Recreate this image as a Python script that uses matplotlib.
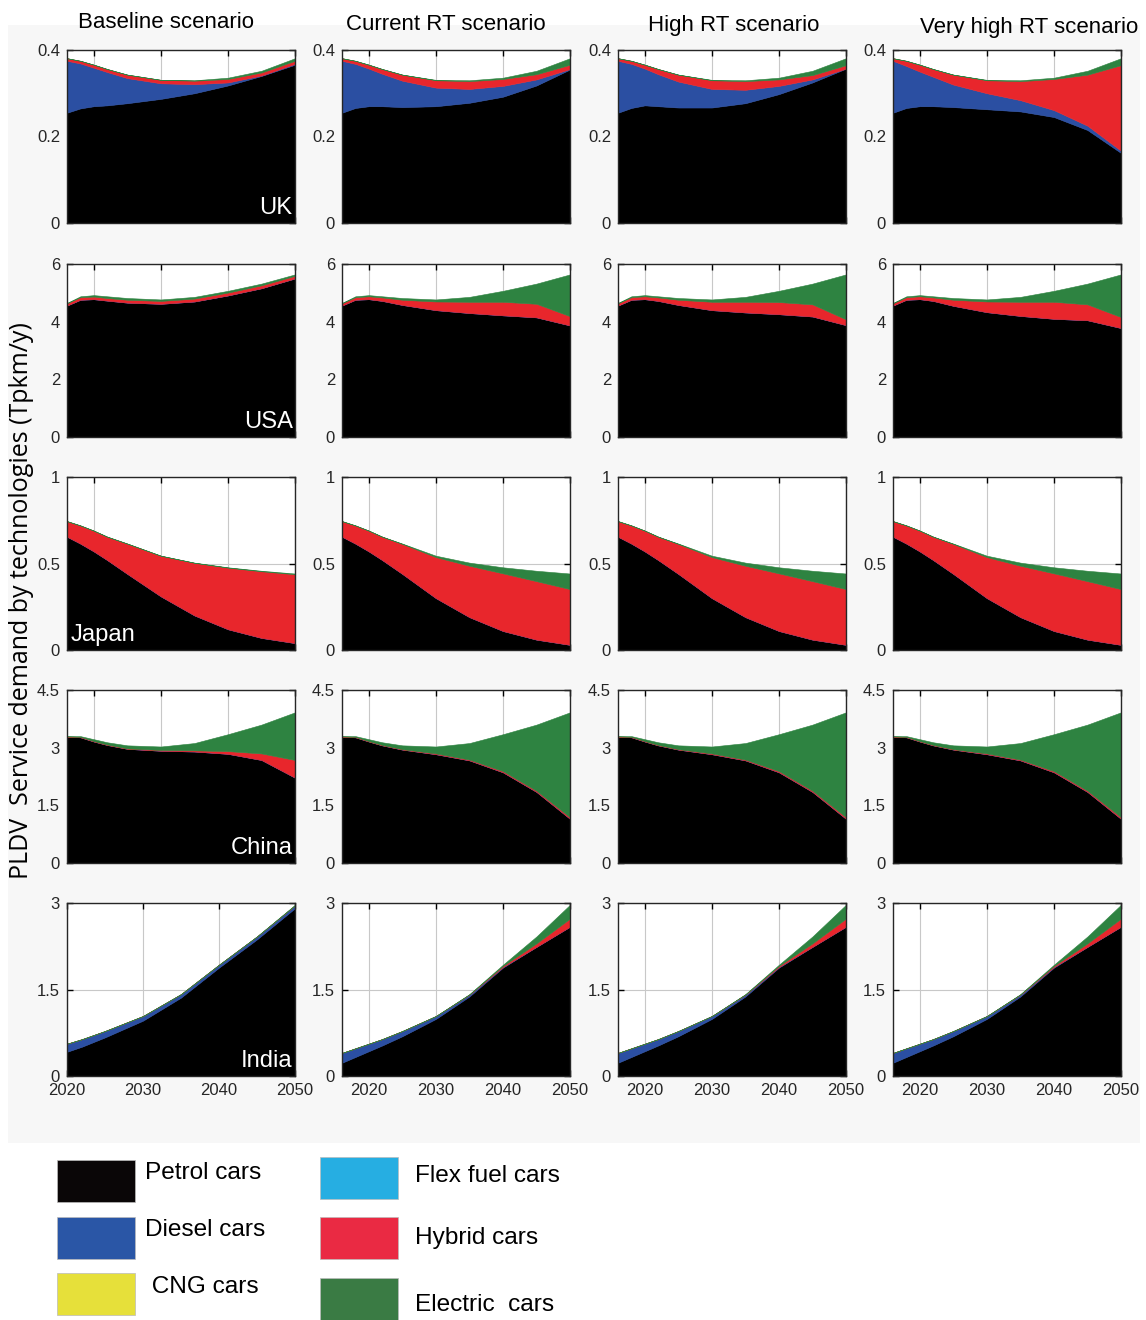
import numpy as np
import matplotlib
matplotlib.use("Agg")
from matplotlib import pyplot as plt
from matplotlib import font_manager
from matplotlib.patches import Rectangle

# 数据部分
years = [2016, 2018, 2020, 2022, 2025, 2030, 2035, 2040, 2045, 2050]
scenarios = ["Baseline scenario", "Current RT scenario", "High RT scenario", "Very high RT scenario"]
regions = ["UK", "USA", "Japan", "China", "India"]

# each list: [baseline, current RT, high RT, very high RT]
uk_petrol = [[0.255, 0.265, 0.270, 0.272, 0.277, 0.287, 0.300, 0.318, 0.340, 0.366],
             [0.255, 0.266, 0.270, 0.270, 0.268, 0.270, 0.278, 0.292, 0.318, 0.355],
             [0.255, 0.266, 0.272, 0.270, 0.267, 0.267, 0.277, 0.298, 0.325, 0.357],
             [0.255, 0.266, 0.270, 0.270, 0.268, 0.263, 0.258, 0.245, 0.215, 0.162]]
uk_diesel = [[0.120, 0.104, 0.089, 0.077, 0.058, 0.036, 0.021, 0.007, 0.001, 0.002],
             [0.120, 0.102, 0.087, 0.075, 0.061, 0.043, 0.032, 0.025, 0.014, 0.001],
             [0.120, 0.102, 0.085, 0.074, 0.060, 0.043, 0.031, 0.019, 0.007, 0.000],
             [0.120, 0.097, 0.080, 0.068, 0.052, 0.037, 0.026, 0.016, 0.010, 0.005]]
uk_hybrid = [[0.006, 0.006, 0.007, 0.007, 0.008, 0.008, 0.008, 0.008, 0.007, 0.007],
             [0.006, 0.007, 0.009, 0.011, 0.014, 0.017, 0.018, 0.016, 0.012, 0.010],
             [0.006, 0.007, 0.009, 0.012, 0.016, 0.020, 0.020, 0.015, 0.010, 0.008],
             [0.006, 0.012, 0.016, 0.018, 0.023, 0.030, 0.044, 0.072, 0.118, 0.198]]
uk_electric = [[0, 0, 0, 0, 0, 0, 0.001, 0.003, 0.004, 0.006],
               [0, 0, 0, 0, 0, 0.001, 0.002, 0.003, 0.008, 0.015],
               [0, 0, 0, 0, 0, 0.001, 0.002, 0.004, 0.010, 0.016],
               [0, 0, 0, 0, 0, 0.001, 0.002, 0.003, 0.009, 0.016]]

usa_petrol = [[4.56, 4.76, 4.78, 4.73, 4.66, 4.62, 4.70, 4.91, 5.16, 5.50],
              [4.56, 4.76, 4.78, 4.72, 4.58, 4.40, 4.30, 4.22, 4.15, 3.87],
              [4.56, 4.76, 4.78, 4.72, 4.58, 4.40, 4.32, 4.26, 4.18, 3.88],
              [4.56, 4.76, 4.78, 4.72, 4.55, 4.33, 4.20, 4.10, 4.05, 3.78]]
usa_diesel = [[0] * 10] * 4
usa_hybrid = [[0.08, 0.09, 0.09, 0.09, 0.10, 0.10, 0.10, 0.10, 0.10, 0.09],
              [0.08, 0.09, 0.10, 0.12, 0.18, 0.30, 0.39, 0.47, 0.47, 0.32],
              [0.08, 0.09, 0.10, 0.12, 0.18, 0.29, 0.37, 0.42, 0.42, 0.20],
              [0.08, 0.09, 0.10, 0.12, 0.21, 0.37, 0.49, 0.59, 0.55, 0.38]]
usa_electric = [[0.01, 0.03, 0.05, 0.06, 0.06, 0.05, 0.06, 0.06, 0.06, 0.05],
                [0.01, 0.03, 0.04, 0.04, 0.06, 0.07, 0.17, 0.38, 0.70, 1.45],
                [0.01, 0.03, 0.04, 0.04, 0.06, 0.08, 0.17, 0.39, 0.72, 1.56],
                [0.01, 0.03, 0.04, 0.04, 0.06, 0.07, 0.17, 0.38, 0.72, 1.48]]

japan_petrol = [[0.655, 0.615, 0.57, 0.52, 0.44, 0.31, 0.20, 0.12, 0.07, 0.04],
                [0.655, 0.615, 0.57, 0.52, 0.44, 0.30, 0.19, 0.11, 0.06, 0.03],
                [0.655, 0.615, 0.57, 0.52, 0.44, 0.30, 0.19, 0.11, 0.06, 0.03],
                [0.655, 0.615, 0.57, 0.52, 0.44, 0.30, 0.19, 0.11, 0.06, 0.03]]
japan_diesel = [[0] * 10] * 4
japan_hybrid = [[0.09, 0.105, 0.12, 0.135, 0.175, 0.235, 0.304, 0.356, 0.385, 0.398],
                [0.09, 0.105, 0.12, 0.135, 0.173, 0.237, 0.297, 0.333, 0.338, 0.322],
                [0.09, 0.105, 0.12, 0.135, 0.173, 0.237, 0.297, 0.333, 0.338, 0.322],
                [0.09, 0.105, 0.12, 0.135, 0.173, 0.237, 0.297, 0.333, 0.338, 0.322]]
japan_electric = [[0, 0, 0, 0, 0, 0, 0.001, 0.002, 0.003, 0.004],
                  [0, 0, 0, 0, 0.002, 0.008, 0.018, 0.035, 0.060, 0.090],
                  [0, 0, 0, 0, 0.002, 0.008, 0.018, 0.035, 0.060, 0.090],
                  [0, 0, 0, 0, 0.002, 0.008, 0.018, 0.035, 0.060, 0.090]]

china_petrol = [[3.28, 3.27, 3.16, 3.07, 2.97, 2.92, 2.90, 2.84, 2.68, 2.22],
                [3.28, 3.27, 3.16, 3.06, 2.95, 2.83, 2.67, 2.36, 1.85, 1.15],
                [3.28, 3.27, 3.16, 3.06, 2.95, 2.83, 2.67, 2.36, 1.85, 1.15],
                [3.28, 3.27, 3.16, 3.06, 2.95, 2.83, 2.67, 2.36, 1.85, 1.15]]
china_diesel = [[0] * 10] * 4
china_hybrid = [[0.01, 0.01, 0.01, 0.01, 0.01, 0.02, 0.03, 0.07, 0.17, 0.46],
                [0.01, 0.01, 0.01, 0.01, 0.01, 0.02, 0.02, 0.03, 0.03, 0.04],
                [0.01, 0.01, 0.01, 0.01, 0.01, 0.02, 0.02, 0.03, 0.03, 0.04],
                [0.01, 0.01, 0.01, 0.01, 0.01, 0.02, 0.02, 0.03, 0.03, 0.04]]
china_electric = [[0.01, 0.02, 0.05, 0.06, 0.08, 0.09, 0.19, 0.44, 0.75, 1.24],
                  [0.01, 0.02, 0.05, 0.07, 0.10, 0.18, 0.43, 0.96, 1.72, 2.73],
                  [0.01, 0.02, 0.05, 0.07, 0.10, 0.18, 0.43, 0.96, 1.72, 2.73],
                  [0.01, 0.02, 0.05, 0.07, 0.10, 0.18, 0.43, 0.96, 1.72, 2.73]]

india_petrol = [[0.24, 0.33, 0.42, 0.51, 0.67, 0.96, 1.36, 1.88, 2.37, 2.91],
                [0.23, 0.33, 0.43, 0.53, 0.69, 0.99, 1.38, 1.88, 2.24, 2.59],
                [0.23, 0.33, 0.43, 0.53, 0.69, 0.99, 1.38, 1.88, 2.24, 2.59],
                [0.23, 0.33, 0.43, 0.53, 0.69, 0.99, 1.38, 1.88, 2.24, 2.59]]
india_diesel = [[0.16, 0.15, 0.14, 0.13, 0.11, 0.08, 0.06, 0.05, 0.05, 0.05],
                [0.17, 0.15, 0.13, 0.11, 0.09, 0.05, 0.03, 0.01, 0.00, 0.00],
                [0.17, 0.15, 0.13, 0.11, 0.09, 0.05, 0.03, 0.01, 0.00, 0.00],
                [0.17, 0.15, 0.13, 0.11, 0.09, 0.05, 0.03, 0.01, 0.00, 0.00]]
india_hybrid = [[0] * 10,
                [0, 0, 0, 0, 0, 0, 0.005, 0.02, 0.06, 0.14],
                [0, 0, 0, 0, 0, 0, 0.005, 0.02, 0.06, 0.14],
                [0, 0, 0, 0, 0, 0, 0.005, 0.02, 0.06, 0.14]]
india_electric = [[0, 0, 0, 0, 0, 0, 0, 0, 0.002, 0.01],
                  [0, 0, 0, 0, 0, 0, 0.005, 0.02, 0.12, 0.24],
                  [0, 0, 0, 0, 0, 0, 0.005, 0.02, 0.12, 0.24],
                  [0, 0, 0, 0, 0, 0, 0.005, 0.02, 0.12, 0.24]]

yticks = [[0, 0.2, 0.4], [0, 2, 4, 6], [0, 0.5, 1], [0, 1.5, 3, 4.5], [0, 1.5, 3]]
ytick_labels = [["0", "0.2", "0.4"], ["0", "2", "4", "6"], ["0", "0.5", "1"],
                ["0", "1.5", "3", "4.5"], ["0", "1.5", "3"]]
xticks = [2020, 2030, 2040, 2050]

legend_names = ["Petrol cars", "Diesel cars", " CNG cars", "Flex fuel cars", "Hybrid cars", "Electric  cars"]
legend_colors = ["#0a0607", "#2a56a6", "#e6e03a", "#26aee2", "#ea2a43", "#3a7b44"]
c_petrol, c_diesel, c_hybrid, c_electric = "#000000", "#2b4fa2", "#e8262c", "#2e8341"

data = [
    (uk_petrol, uk_diesel, uk_hybrid, uk_electric),
    (usa_petrol, usa_diesel, usa_hybrid, usa_electric),
    (japan_petrol, japan_diesel, japan_hybrid, japan_electric),
    (china_petrol, china_diesel, china_hybrid, china_electric),
    (india_petrol, india_diesel, india_hybrid, india_electric),
]

# 字体
names = set(f.name for f in font_manager.fontManager.ttflist)
narrow = "Liberation Sans Narrow" in names
cond_font = "Liberation Sans Narrow" if narrow else "Liberation Sans"
k = 1.0 if narrow else 0.9
plt.rcParams["font.family"] = ["Liberation Sans", "DejaVu Sans"]

W, H = 1146, 1320
fig = plt.figure(figsize=(W / 100, H / 100), dpi=100)
fig.patch.set_facecolor("white")
fig.add_artist(Rectangle((8 / W, 1 - 1143 / H), 1132 / W, 1118 / H, transform=fig.transFigure,
                         facecolor="#f7f7f7", edgecolor="none", zorder=0))

col_left = [67, 342, 618, 893]
row_top = [50, 264, 477, 690, 903]
aw, ah = 228, 173

for r in range(5):
    for c in range(4):
        ax = fig.add_axes([col_left[c] / W, 1 - (row_top[r] + ah) / H, aw / W, ah / H])
        p, d, h, e = data[r]
        ax.stackplot(years, p[c], d[c], h[c], e[c],
                     colors=[c_petrol, c_diesel, c_hybrid, c_electric],
                     edgecolor="face", linewidth=0.4)
        x0 = 2020 if (r == 4 and c == 0) else 2016
        ax.set_xlim(x0, 2050)
        ax.set_ylim(0, yticks[r][-1])
        ax.set_yticks(yticks[r])
        ax.set_yticklabels(ytick_labels[r])
        ax.set_xticks(xticks)
        if r < 4:
            ax.set_xticklabels([])
        ax.grid(True, color="#c8c8c8", linewidth=0.8)
        ax.set_axisbelow(True)
        ax.tick_params(direction="in", top=True, right=True, length=4, width=1,
                       labelsize=12, labelcolor="#262626", pad=5)
        for s in ax.spines.values():
            s.set_color("#262626")
            s.set_linewidth(1)
        if c == 0:
            if regions[r] == "Japan":
                ax.text(0.015, 0.025, regions[r], transform=ax.transAxes, ha="left", va="bottom",
                        color="white", fontsize=19 * k, family=cond_font)
            else:
                ax.text(0.99, 0.025, regions[r], transform=ax.transAxes, ha="right", va="bottom",
                        color="white", fontsize=19 * k, family=cond_font)

# 标题
title_x = [166, 446, 734, 1029]
title_y = [22, 24, 25, 27]
for i in range(4):
    fig.text(title_x[i] / W, 1 - title_y[i] / H, scenarios[i], ha="center", va="center",
             fontsize=17.8 * k, family=cond_font)

fig.text(22 / W, 1 - 601 / H, "PLDV  Service demand by technologies (Tpkm/y)", rotation=90,
         ha="center", va="center", fontsize=18, family=["Open Sans", "DejaVu Sans"])

# 图例
patch_x = [57, 57, 57, 320, 320, 320]
patch_y = [1160, 1217, 1273, 1157, 1217, 1278]
text_x = [145, 145, 145, 415, 415, 415]
text_y = [1173, 1230, 1287, 1176, 1238, 1305]
for i in range(6):
    fig.add_artist(Rectangle((patch_x[i] / W, 1 - (patch_y[i] + 42) / H), 78 / W, 42 / H,
                             transform=fig.transFigure, facecolor=legend_colors[i],
                             edgecolor="#bbbbbb", linewidth=0.5))
    fig.text(text_x[i] / W, 1 - text_y[i] / H, legend_names[i], ha="left", va="center",
             fontsize=19.5 * k, family=cond_font)

plt.savefig("out.png", dpi=100)
